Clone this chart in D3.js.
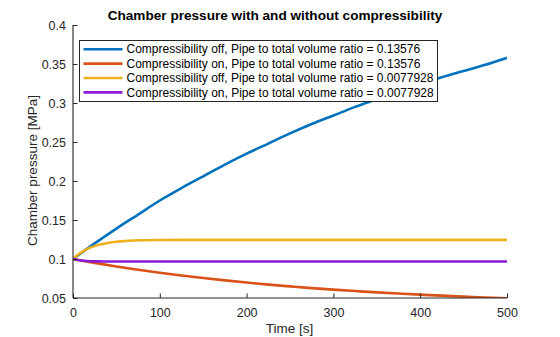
<!DOCTYPE html>
<html>
<head>
<meta charset="utf-8">
<script src="https://cdn.jsdelivr.net/npm/d3@7"></script>
<style>
  html, body { margin: 0; padding: 0; background: #fff; }
  svg { display: block; font-family: "Liberation Sans", Arial, sans-serif; }
</style>
</head>
<body>
<svg id="chart" width="560" height="337"></svg>
<script>
// Time samples [s]
const timeCoarse = [0, 25, 50, 75, 100, 125, 150, 175, 200, 225, 250, 275, 300, 325, 350, 375, 400, 425, 450, 475, 500];
const timeFine = [0, 5, 10, 15, 20, 30, 40, 50, 60, 80, 100, 150, 200, 300, 400, 500];

// Chamber pressure [MPa]
const offLarge = [0.100, 0.120, 0.139, 0.157, 0.175, 0.191, 0.206, 0.221, 0.235, 0.248, 0.261, 0.273, 0.284, 0.295, 0.305, 0.315, 0.324, 0.333, 0.341, 0.349, 0.358];
const onLarge  = [0.100, 0.0950, 0.0905, 0.0863, 0.0824, 0.0788, 0.0756, 0.0726, 0.0698, 0.0672, 0.0649, 0.0627, 0.0607, 0.0589, 0.0572, 0.0557, 0.0543, 0.0530, 0.0518, 0.0506, 0.0496];
const offSmall = [0.100, 0.1049, 0.1089, 0.1121, 0.1146, 0.1183, 0.1206, 0.1221, 0.1230, 0.1240, 0.1243, 0.1245, 0.1245, 0.1245, 0.1245, 0.1245];
const onSmall  = [0.100, 0.0988, 0.0980, 0.0975, 0.0972, 0.0969, 0.0968, 0.0967, 0.0967, 0.0967, 0.0967, 0.0967, 0.0967, 0.0967, 0.0967, 0.0967];

const seriesNames = [
  "Compressibility off, Pipe to total volume ratio = 0.13576",
  "Compressibility on, Pipe to total volume ratio = 0.13576",
  "Compressibility off, Pipe to total volume ratio = 0.0077928",
  "Compressibility on, Pipe to total volume ratio = 0.0077928"
];
const seriesColors = ["#0072BD", "#D95319", "#EDB120", "#8A1BD9"];

const xTicks = [0, 100, 200, 300, 400, 500];
const yTicks = [0.05, 0.1, 0.15, 0.2, 0.25, 0.3, 0.35, 0.4];

const series = [
  { t: timeCoarse, p: offLarge },
  { t: timeCoarse, p: onLarge },
  { t: timeFine, p: offSmall },
  { t: timeFine, p: onSmall }
];

const svg = d3.select("#chart");
const axisColor = "#262626";
const plot = { left: 73, right: 507, top: 25, bottom: 298 };

const x = d3.scaleLinear().domain([0, 500]).range([plot.left, plot.right]);
const y = d3.scaleLinear().domain([0.05, 0.4]).range([plot.bottom, plot.top]);

// Clip the curves to the axes box
svg.append("defs").append("clipPath").attr("id", "clip")
  .append("rect")
  .attr("x", plot.left).attr("y", plot.top)
  .attr("width", plot.right - plot.left).attr("height", plot.bottom - plot.top);

// Curves
const line = d3.line().curve(d3.curveMonotoneX);
const curves = svg.append("g").attr("clip-path", "url(#clip)");
series.forEach((s, i) => {
  curves.append("path")
    .attr("d", line(s.t.map((t, k) => [x(t), y(s.p[k])])))
    .attr("fill", "none")
    .attr("stroke", seriesColors[i])
    .attr("stroke-width", 2.6)
    .attr("stroke-linejoin", "round");
});

// Axes with inward ticks
const xAxis = d3.axisBottom(x).tickValues(xTicks).tickSize(-4.5).tickPadding(10)
  .tickFormat(d3.format("d"));
const yAxis = d3.axisLeft(y).tickValues(yTicks).tickSize(-4.5).tickPadding(7)
  .tickFormat(d => d3.format("")(+d.toFixed(2)));

const gx = svg.append("g").attr("transform", `translate(0,${plot.bottom})`).call(xAxis);
const gy = svg.append("g").attr("transform", `translate(${plot.left},0)`).call(yAxis);

[gx, gy].forEach(g => {
  g.select(".domain").attr("stroke", axisColor).attr("stroke-width", 1.1);
  g.selectAll(".tick line").attr("stroke", axisColor).attr("stroke-width", 1);
  g.selectAll(".tick text").attr("fill", axisColor)
    .style("font-family", "'Liberation Sans', Arial, sans-serif")
    .style("font-size", "12.5px");
});
gx.select(".domain").attr("d", `M${plot.left},0H${plot.right}`);
gy.select(".domain").attr("d", `M0,${plot.bottom}V${plot.top}`);

// Title and axis labels
svg.append("text")
  .attr("x", 275).attr("y", 20)
  .attr("text-anchor", "middle")
  .attr("fill", "#000")
  .style("font-size", "13.6px").style("font-weight", "bold")
  .text("Chamber pressure with and without compressibility");

svg.append("text")
  .attr("x", (plot.left + plot.right) / 2 - 0.5).attr("y", 333)
  .attr("text-anchor", "middle")
  .attr("fill", axisColor)
  .style("font-size", "13.5px")
  .text("Time [s]");

svg.append("text")
  .attr("transform", `translate(37,${(plot.top + plot.bottom) / 2 + 9}) rotate(-90)`)
  .attr("text-anchor", "middle")
  .attr("fill", axisColor)
  .style("font-size", "13.5px")
  .text("Chamber pressure [MPa]");

// Legend
const legend = svg.append("g");
const lg = { x: 79.5, y: 40.5, w: 358, h: 61, row: 14.4 };
legend.append("rect")
  .attr("x", lg.x).attr("y", lg.y).attr("width", lg.w).attr("height", lg.h)
  .attr("fill", "#fff").attr("stroke", axisColor).attr("stroke-width", 1);
seriesNames.forEach((name, i) => {
  const cy = lg.y + 8.7 + i * lg.row;
  legend.append("line")
    .attr("x1", lg.x + 4).attr("x2", lg.x + 43)
    .attr("y1", cy).attr("y2", cy)
    .attr("stroke", seriesColors[i]).attr("stroke-width", 2.6);
  legend.append("text")
    .attr("x", lg.x + 47).attr("y", cy + 4.2)
    .attr("fill", "#000")
    .style("font-size", "12px")
    .text(name);
});
</script>
</body>
</html>
